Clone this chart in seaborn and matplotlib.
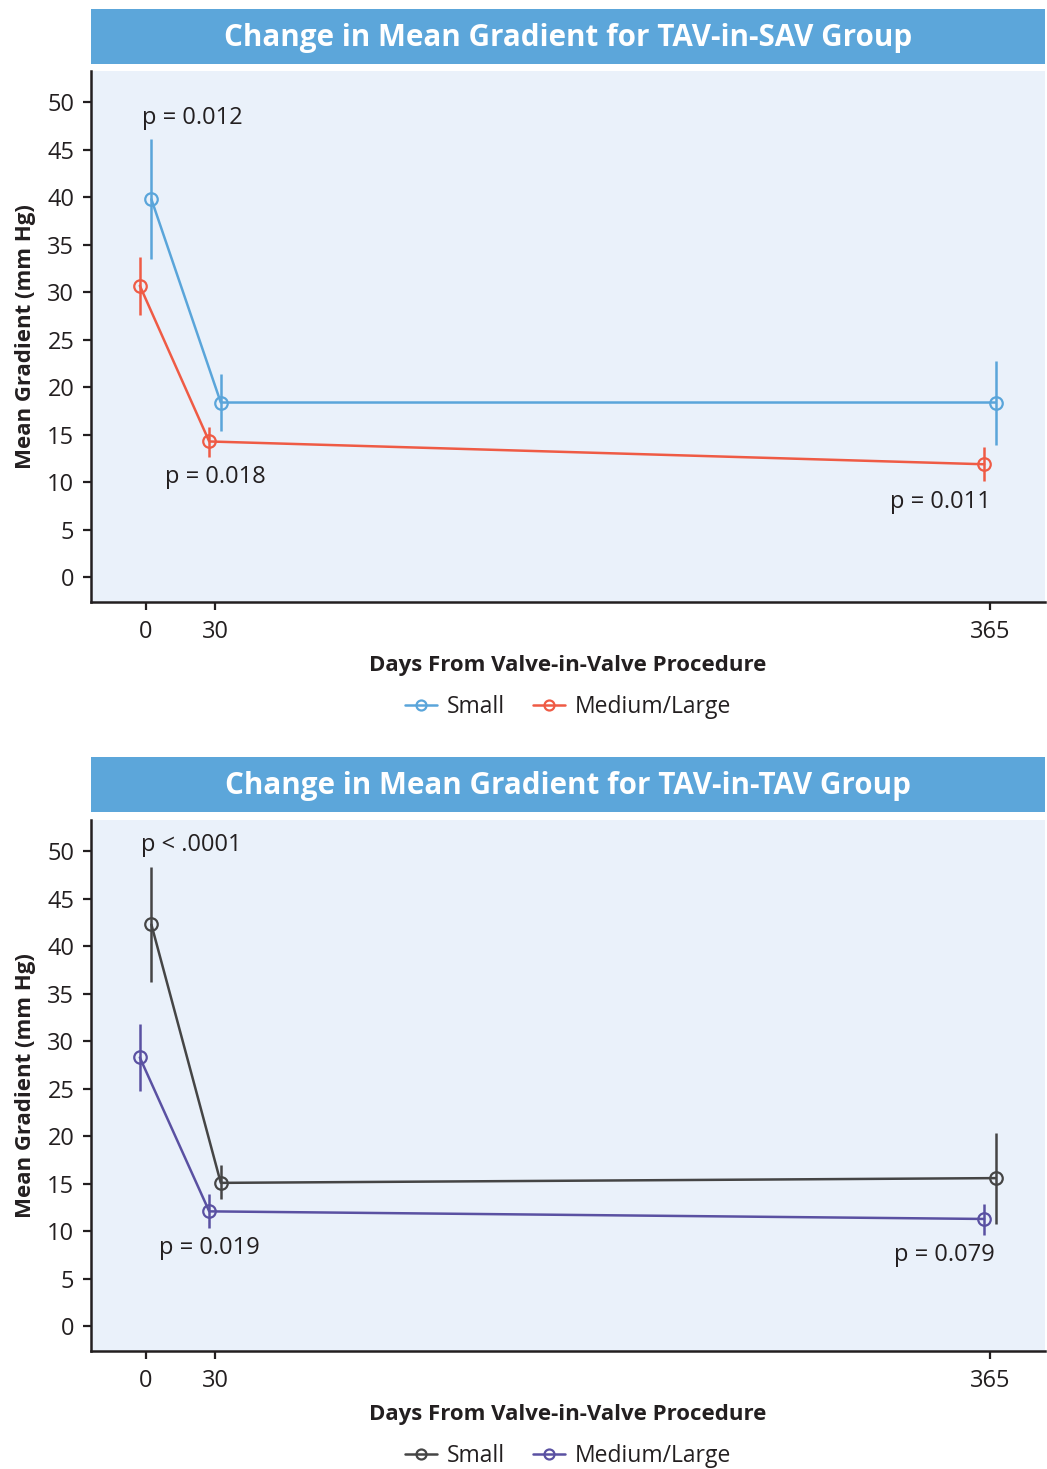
import matplotlib
matplotlib.use("Agg")
import matplotlib.pyplot as plt
import seaborn as sns
import pandas as pd

# Follow-up time points (days) and group labels
days = [0, 30, 365]
groups = ["Small", "Medium/Large"]

# TAV-in-SAV: mean gradient (mm Hg) with error bar limits
sav_small_mean = [39.8, 18.4, 18.4]
sav_small_lo = [33.5, 15.4, 13.9]
sav_small_hi = [46.1, 21.4, 22.8]
sav_med_mean = [30.7, 14.3, 11.9]
sav_med_lo = [27.6, 12.7, 10.1]
sav_med_hi = [33.7, 15.8, 13.7]

# TAV-in-TAV: mean gradient (mm Hg) with error bar limits
tav_small_mean = [42.3, 15.1, 15.6]
tav_small_lo = [36.2, 13.4, 10.8]
tav_small_hi = [48.4, 17.0, 20.4]
tav_med_mean = [28.3, 12.1, 11.3]
tav_med_lo = [24.8, 10.4, 9.6]
tav_med_hi = [31.8, 13.9, 12.9]

# p-value labels per panel
sav_pvals = ["p = 0.012", "p = 0.018", "p = 0.011"]
tav_pvals = ["p < .0001", "p = 0.019", "p = 0.079"]

sns.set_theme(style="ticks")
plt.rcParams["font.family"] = ["Open Sans", "DejaVu Sans"]
plt.rcParams["text.color"] = "#231f20"
plt.rcParams["axes.labelcolor"] = "#231f20"
plt.rcParams["xtick.color"] = "#231f20"
plt.rcParams["ytick.color"] = "#231f20"

W, H = 1047, 1469
fig = plt.figure(figsize=(W / 100, H / 100), dpi=100)

BANNER = "#5ca6da"
BG = "#eaf1fa"
DODGE = {"Small": 2.5, "Medium/Large": -2.5}


def fx(px):
    return px / W


def fy(px):
    return 1 - px / H


def panel(top_banner, ax_top, ax_bottom, title, data, palette, pvals, pval_pos):
    # title banner
    bax = fig.add_axes([fx(91), fy(top_banner + 55), fx(954), 55 / H])
    bax.set_facecolor(BANNER)
    for s in bax.spines.values():
        s.set_visible(False)
    bax.set_xticks([])
    bax.set_yticks([])
    bax.text(0.5, 0.48, title, ha="center", va="center", color="white",
             fontsize=21.3, fontweight="bold", transform=bax.transAxes)

    ax = fig.add_axes([fx(91), fy(ax_bottom), fx(954), (ax_bottom - ax_top) / H])
    ax.set_facecolor(BG)

    rows = []
    for g, (mean, lo, hi) in data.items():
        for d, m, l, h in zip(days, mean, lo, hi):
            rows.append({"day": d, "x": d + DODGE[g], "gradient": m,
                         "lo": l, "hi": h, "group": g})
    df = pd.DataFrame(rows)

    sns.lineplot(data=df, x="x", y="gradient", hue="group", hue_order=groups,
                 palette=palette, marker="o", markersize=9, linewidth=1.8,
                 legend=False, ax=ax, sort=True)
    for line in ax.get_lines():
        line.set_markerfacecolor("none")
        line.set_markeredgecolor(line.get_color())
        line.set_markeredgewidth(1.6)

    for g in groups:
        sub = df[df["group"] == g]
        ax.vlines(sub["x"], sub["lo"], sub["hi"], colors=palette[g], linewidth=1.8)

    for txt, (x, y, ha) in zip(pvals, pval_pos):
        ax.text(x, y, txt, ha=ha, va="center", fontsize=17)

    ax.set_xlim(-23.6, 388.8)
    ax.set_ylim(-2.6, 53.3)
    ax.set_xticks(days)
    ax.set_yticks(range(0, 51, 5))
    ax.tick_params(axis="both", labelsize=17, length=6, width=1.6)
    ax.tick_params(axis="y", pad=6)
    ax.tick_params(axis="x", pad=7)
    sns.despine(ax=ax)
    for s in ("left", "bottom"):
        ax.spines[s].set_linewidth(1.8)
        ax.spines[s].set_color("#231f20")

    ax.set_xlabel("Days From Valve-in-Valve Procedure", fontsize=16,
                  fontweight="bold", labelpad=8)
    ax.set_ylabel("Mean Gradient (mm Hg)", fontsize=16, fontweight="bold",
                  labelpad=8)

    handles = [line for line in ax.get_lines()[:2]]
    ax.legend(handles, groups, loc="center", bbox_to_anchor=(0.5, -0.197),
              ncol=2, frameon=False, fontsize=16.5, handlelength=1.4,
              columnspacing=1.2, handletextpad=0.45, markerscale=0.8)
    return ax


panel(9, 71, 602, "Change in Mean Gradient for TAV-in-SAV Group",
      {"Small": (sav_small_mean, sav_small_lo, sav_small_hi),
       "Medium/Large": (sav_med_mean, sav_med_lo, sav_med_hi)},
      {"Small": "#5aa5da", "Medium/Large": "#ef5b45"},
      sav_pvals,
      [(-1.6, 48.3, "left"), (8.3, 10.6, "left"), (365.5, 7.9, "right")])

panel(757, 820, 1351, "Change in Mean Gradient for TAV-in-TAV Group",
      {"Small": (tav_small_mean, tav_small_lo, tav_small_hi),
       "Medium/Large": (tav_med_mean, tav_med_lo, tav_med_hi)},
      {"Small": "#454545", "Medium/Large": "#5a51a2"},
      tav_pvals,
      [(-2.0, 50.7, "left"), (5.8, 8.2, "left"), (367.2, 7.5, "right")])

fig.savefig("out.png", dpi=100)
